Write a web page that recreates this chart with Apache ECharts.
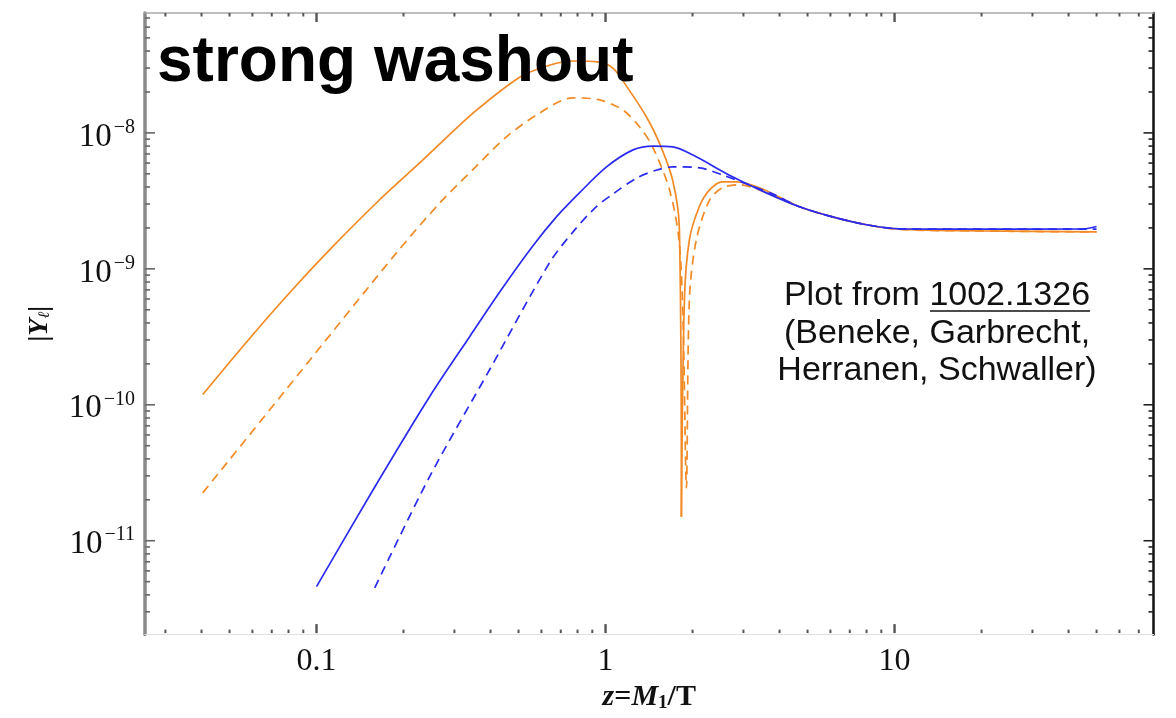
<!DOCTYPE html>
<html><head><meta charset="utf-8">
<script src="https://cdn.jsdelivr.net/npm/echarts@6/dist/echarts.min.js"></script>
<style>html,body{margin:0;padding:0;background:#fff}#c{width:1176px;height:718px}</style>
</head><body><div id="c"></div>
<script>
// ---- data ----
const orangeSolidZ = [0.0404,0.0573,0.0807,0.1135,0.165,0.233,0.267,0.348,0.506,0.643,0.772,0.935,1.06,1.186,1.386,1.537,1.706,1.80,1.83,1.875,1.95,2.11,2.29,2.54,2.84,3.41,4.69,6.1,8.0,10.4,20,50];
const orangeSolidY = [1.19e-10,2.9e-10,6.67e-10,1.45e-9,3.21e-9,6.3e-9,8.3e-9,1.40e-8,2.58e-8,3.16e-8,3.38e-8,3.33e-8,3.0e-8,2.18e-8,1.31e-8,8.4e-9,4.5e-9,2.03e-9,1.5e-11,5.9e-10,1.63e-9,2.86e-9,3.81e-9,4.37e-9,4.37e-9,3.95e-9,2.86e-9,2.41e-9,2.11e-9,1.96e-9,1.9e-9,1.87e-9];

const orangeDashZ = [0.0404,0.0874,0.189,0.267,0.347,0.454,0.591,0.769,0.953,1.145,1.31,1.455,1.665,1.796,1.854,1.905,1.95,2.06,2.29,2.54,2.91,3.41,4.69,6.1,8.0,10.4,20,50];
const orangeDashY = [2.25e-11,1.72e-10,1.31e-9,3.05e-9,5.35e-9,9.35e-9,1.40e-8,1.81e-8,1.75e-8,1.48e-8,1.11e-8,7.9e-9,3.81e-9,1.63e-9,4.2e-10,2.45e-11,5.9e-10,1.63e-9,3.2e-9,3.95e-9,4.15e-9,3.81e-9,2.86e-9,2.41e-9,2.11e-9,1.95e-9,1.9e-9,1.87e-9];

const blueSolidZ = [0.1,0.157,0.247,0.340,0.431,0.561,0.676,0.812,1.008,1.245,1.46,1.71,2.0,2.75,3.6,4.69,6.1,8.0,10.4,20,45,50];
const blueSolidY = [4.6e-12,2.37e-11,1.16e-10,3.21e-10,6.78e-10,1.476e-9,2.41e-9,3.62e-9,5.62e-9,7.5e-9,8.0e-9,7.9e-9,6.9e-9,4.75e-9,3.62e-9,2.86e-9,2.41e-9,2.11e-9,1.97e-9,1.96e-9,1.97e-9,2.05e-9];

const blueDashZ = [0.159,0.246,0.397,0.64,0.772,0.920,1.062,1.285,1.506,1.712,2.12,2.54,3.14,3.85,4.69,6.1,8.0,10.4,20,50];
const blueDashY = [4.5e-12,2.95e-11,1.81e-10,1.11e-9,1.87e-9,2.81e-9,3.56e-9,4.67e-9,5.34e-9,5.63e-9,5.53e-9,4.9e-9,4.15e-9,3.5e-9,2.86e-9,2.41e-9,2.11e-9,1.97e-9,1.96e-9,1.96e-9];

const xMajorTicks = [0.1, 1, 10];
const xMinorTicks = [0.03,0.04,0.05,0.06,0.07,0.08,0.09,0.2,0.3,0.4,0.5,0.6,0.7,0.8,0.9,2,3,4,5,6,7,8,9,20,30,40,50,60,70];
const yMajorTicks = [1e-11, 1e-10, 1e-9, 1e-8];
const yMinorTicks = [3e-12,4e-12,5e-12,6e-12,7e-12,8e-12,9e-12,2e-11,3e-11,4e-11,5e-11,6e-11,7e-11,8e-11,9e-11,2e-10,3e-10,4e-10,5e-10,6e-10,7e-10,8e-10,9e-10,2e-9,3e-9,4e-9,5e-9,6e-9,7e-9,8e-9,9e-9,2e-8,3e-8,4e-8,5e-8,6e-8,7e-8];

const X_MIN = 0.0255, X_MAX = 78.7, Y_MIN = 2.04e-12, Y_MAX = 7.62e-8;

// ---- helpers ----
function zip(zs, ys) { return zs.map((z, i) => [z, ys[i]]); }
function minIndex(ys) { let k = 0; ys.forEach((v, i) => { if (v < ys[k]) k = i; }); return k; }
// split a curve at its dip so the cusp stays sharp
function splitAtDip(zs, ys) {
  const d = zip(zs, ys); const k = minIndex(ys);
  return [d.slice(0, k + 1), d.slice(k)];
}
const ORANGE = '#f28a25', BLUE = '#2b2bf0';

function lineSeries(data, color, dashed, z) {
  return {
    type: 'line', data: data, showSymbol: false, symbol: 'none', smooth: 0.3,
    lineStyle: { color: color, width: 1.7, type: dashed ? [9, 6] : 'solid' },
    z: z, silent: true, animation: false, clip: true
  };
}

const os = splitAtDip(orangeSolidZ, orangeSolidY);
const od = splitAtDip(orangeDashZ, orangeDashY);

const xTickData = xMajorTicks.map(v => [v, Y_MIN, 1]).concat(xMinorTicks.map(v => [v, Y_MIN, 0]));
const yTickData = yMajorTicks.map(v => [X_MIN, v, 1]).concat(yMinorTicks.map(v => [X_MIN, v, 0]));

function isPow10(v) { const l = Math.log10(v); return Math.abs(l - Math.round(l)) < 1e-6; }

const serif = "'Liberation Serif', 'DejaVu Serif', serif";
const sans = "'Liberation Sans', Arial, Helvetica, sans-serif";

const chart = echarts.init(document.getElementById('c'), null, { renderer: 'canvas' });
chart.setOption({
  backgroundColor: '#fff',
  animation: false,
  grid: { left: 145, right: 22.5, top: 13, bottom: 83, containLabel: false },
  xAxis: [{
    type: 'log', logBase: 10, min: X_MIN, max: X_MAX, position: 'bottom',
    axisLine: { show: true, lineStyle: { color: '#e2e2e2', width: 1 } },
    axisTick: { show: false }, splitLine: { show: false }, minorTick: { show: false },
    axisLabel: {
      margin: 11, color: '#111', fontFamily: serif, fontSize: 32,
      formatter: v => { if (!isPow10(v)) return ''; const e = Math.round(Math.log10(v)); return e < 0 ? v.toFixed(-e) : String(Math.round(v)); }
    },
    name: '{i|z}{r|=}{i|M}{sub|1}{r|/T}', nameLocation: 'middle', nameGap: 44,
    nameTextStyle: {
      color: '#111', fontFamily: serif, fontSize: 30,
      rich: {
        i: { fontFamily: serif, fontSize: 30, fontStyle: 'italic', fontWeight: 'bold', color: '#111' },
        r: { fontFamily: serif, fontSize: 30, fontWeight: 'bold', color: '#111' },
        sub: { fontFamily: serif, fontSize: 19, fontWeight: 'bold', color: '#111', padding: [12, 0, 0, 0] }
      }
    }
  }, {
    type: 'log', logBase: 10, min: X_MIN, max: X_MAX, position: 'top',
    axisLine: { show: true, lineStyle: { color: '#a8a8a8', width: 1.5 } },
    axisTick: { show: false }, splitLine: { show: false }, axisLabel: { show: false }
  }],
  yAxis: [{
    type: 'log', logBase: 10, min: Y_MIN, max: Y_MAX, position: 'left',
    axisLine: { show: true, lineStyle: { color: '#8a8a8a', width: 3.5 } },
    axisTick: { show: false }, splitLine: { show: false }, minorTick: { show: false },
    axisLabel: {
      margin: 10, color: '#111', fontFamily: serif,
      formatter: v => { if (!isPow10(v)) return ''; const e = Math.round(Math.log10(v)); return '{b|10}{s|\u2212' + (-e) + '}'; },
      rich: {
        b: { fontFamily: serif, fontSize: 33, color: '#111', padding: [8, 0, 0, 0] },
        s: { fontFamily: serif, fontSize: 20, color: '#111', padding: [0, 0, 11, 2] }
      }
    },
    name: '{n||}{i|Y}{sub|\u2113}{n||}', nameLocation: 'middle', nameGap: 91, nameRotate: 90,
    nameTextStyle: {
      color: '#111', fontFamily: serif, fontSize: 28,
      rich: {
        n: { fontFamily: serif, fontSize: 28, color: '#111', fontWeight: 'bold' },
        i: { fontFamily: serif, fontSize: 28, fontStyle: 'italic', color: '#111', fontWeight: 'bold' },
        sub: { fontFamily: serif, fontSize: 16, fontStyle: 'italic', color: '#111', padding: [10, 0, 0, 0] }
      }
    }
  }, {
    type: 'log', logBase: 10, min: Y_MIN, max: Y_MAX, position: 'right',
    axisLine: { show: true, lineStyle: { color: '#111', width: 2.5 } },
    axisTick: { show: false }, splitLine: { show: false }, axisLabel: { show: false }
  }],
  series: [
    lineSeries(od[0], ORANGE, true, 3), lineSeries(od[1], ORANGE, true, 3),
    lineSeries(os[0], ORANGE, false, 4), lineSeries(os[1], ORANGE, false, 4),
    lineSeries(zip(blueDashZ, blueDashY), BLUE, true, 5),
    lineSeries(zip(blueSolidZ, blueSolidY), BLUE, false, 6),
    {
      type: 'custom', xAxisIndex: 0, yAxisIndex: 0, data: xTickData, silent: true, z: 8, animation: false,
      renderItem: function (params, api) {
        const v = api.value(0), major = api.value(2);
        const b = api.coord([v, Y_MIN]), t = api.coord([v, Y_MAX]);
        const len = major ? 9 : 3.5, w = major ? 2.4 : 2;
        return { type: 'group', children: [
          { type: 'line', shape: { x1: b[0], y1: b[1] - 1.5, x2: b[0], y2: b[1] - 1.5 - len }, style: { stroke: '#555', lineWidth: w } },
          { type: 'line', shape: { x1: t[0], y1: t[1], x2: t[0], y2: t[1] + len }, style: { stroke: '#555', lineWidth: w } }
        ] };
      }
    },
    {
      type: 'custom', xAxisIndex: 0, yAxisIndex: 0, data: yTickData, silent: true, z: 8, animation: false,
      renderItem: function (params, api) {
        const v = api.value(1), major = api.value(2);
        const l = api.coord([X_MIN, v]), r = api.coord([X_MAX, v]);
        const len = major ? 10 : 5, w = 1.6;
        return { type: 'group', children: [
          { type: 'line', shape: { x1: l[0], y1: l[1], x2: l[0] + len, y2: l[1] }, style: { stroke: '#666', lineWidth: w } },
          { type: 'line', shape: { x1: r[0], y1: r[1], x2: r[0] - len, y2: r[1] }, style: { stroke: '#222', lineWidth: w } }
        ] };
      }
    }
  ],
  graphic: [
    { type: 'text', left: 157, top: 31, z: 100, style: { text: 'strong washout', font: 'bold 64px ' + sans, fill: '#000' } },
    { type: 'text', x: 937, y: 296, z: 100, style: { text: 'Plot from 1002.1326', font: '34px ' + sans, fill: '#111', align: 'center', verticalAlign: 'middle' } },
    { type: 'text', x: 937, y: 334, z: 100, style: { text: '(Beneke, Garbrecht,', font: '34px ' + sans, fill: '#111', align: 'center', verticalAlign: 'middle' } },
    { type: 'text', x: 937, y: 371, z: 100, style: { text: 'Herranen, Schwaller)', font: '34px ' + sans, fill: '#111', align: 'center', verticalAlign: 'middle' } },
    { type: 'line', z: 100, shape: { x1: 930, y1: 311, x2: 1090, y2: 311 }, style: { stroke: '#111', lineWidth: 1.5 } }
  ]
});
</script></body></html>
